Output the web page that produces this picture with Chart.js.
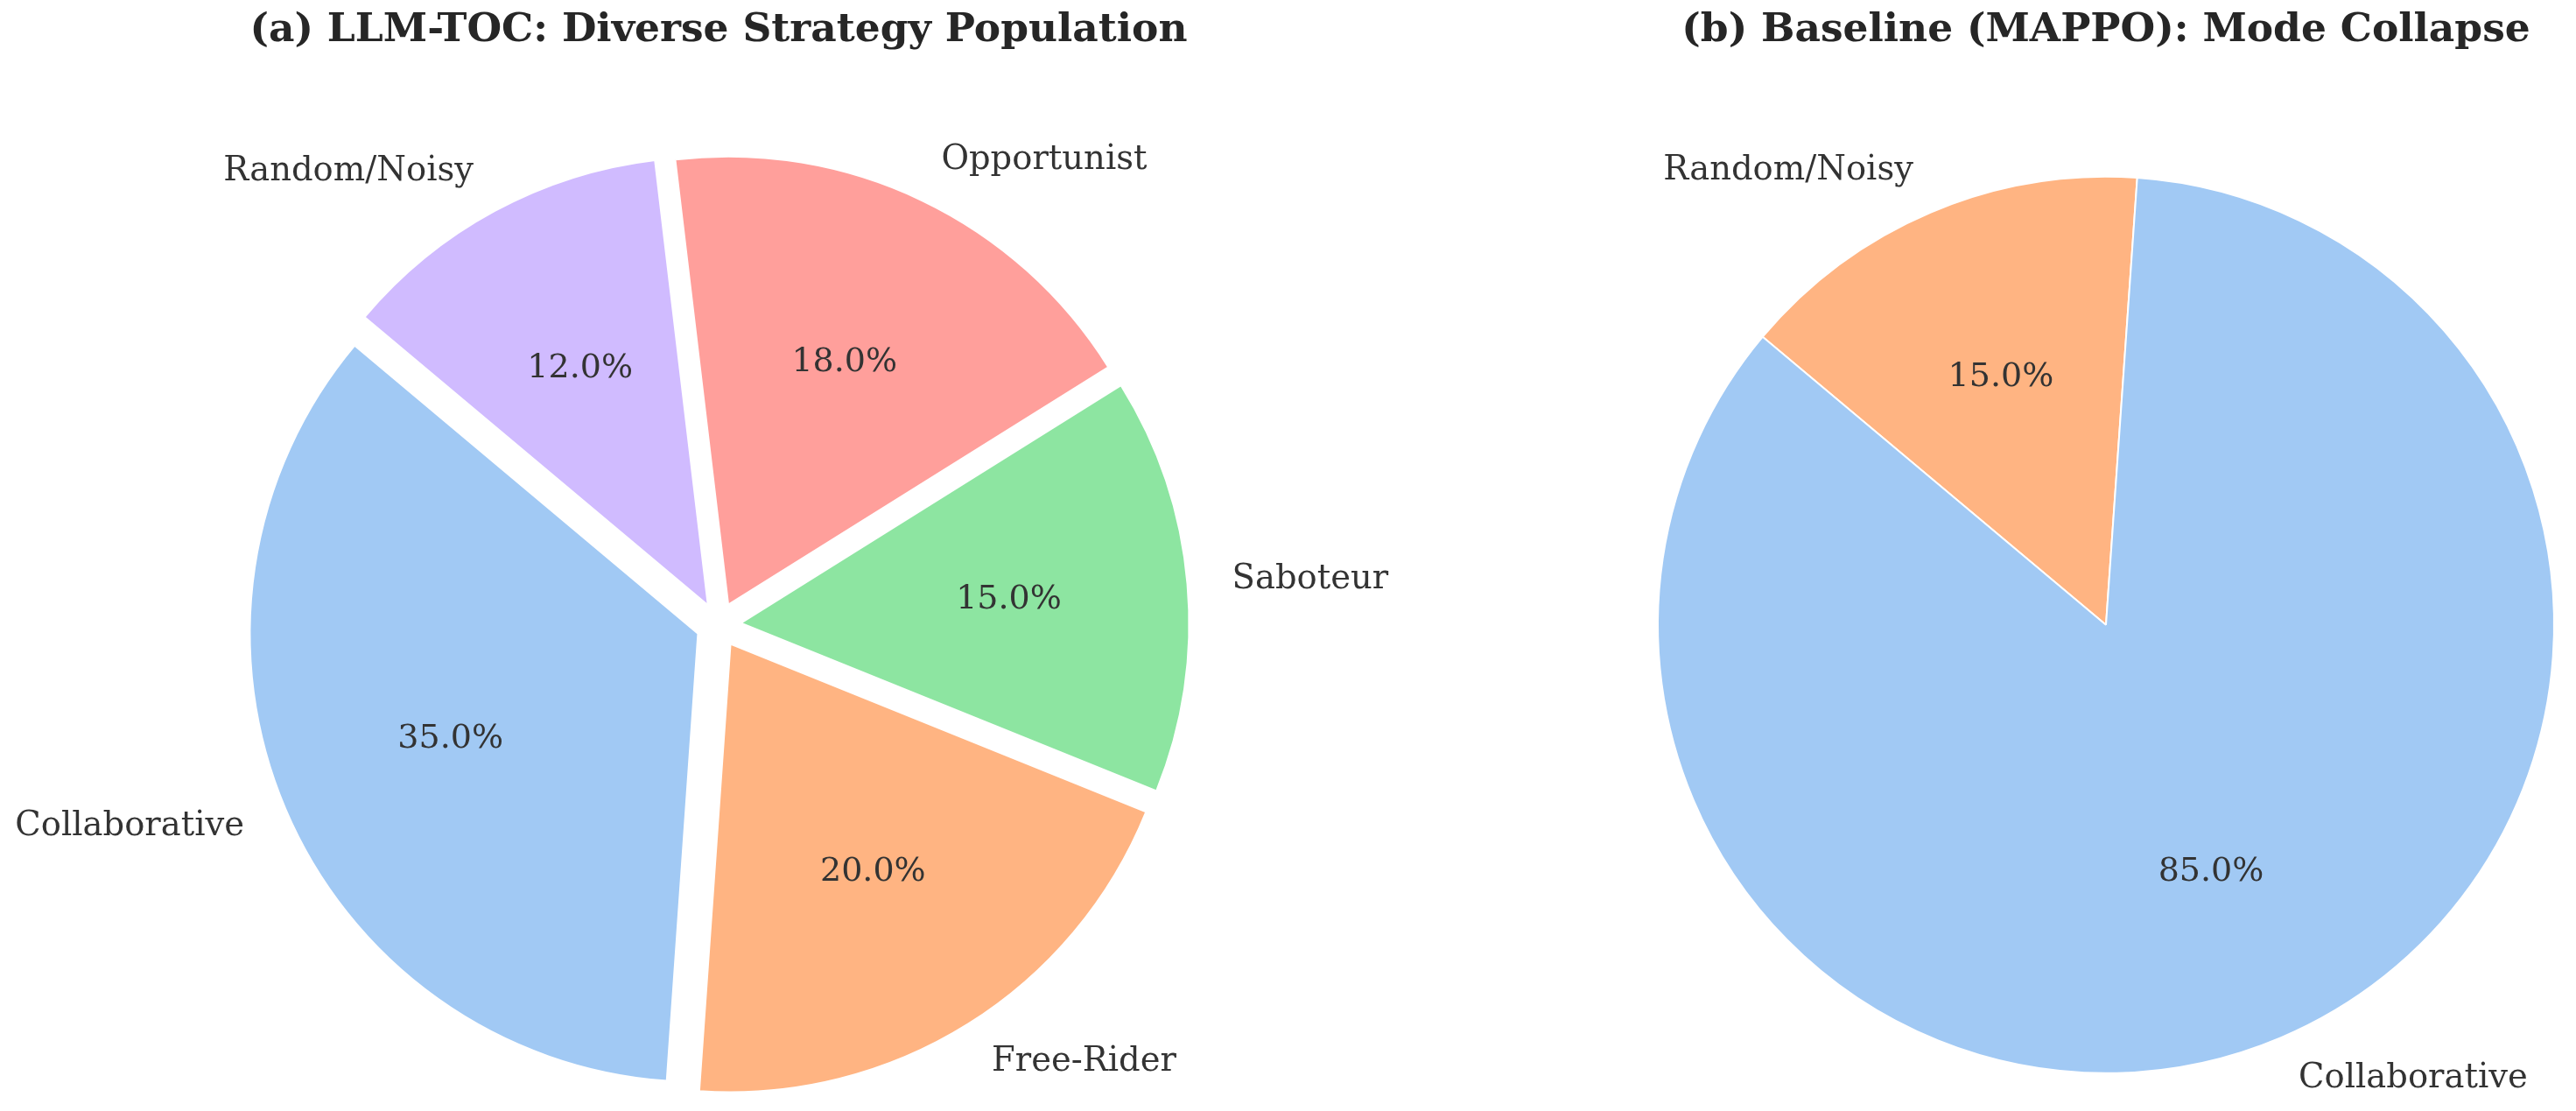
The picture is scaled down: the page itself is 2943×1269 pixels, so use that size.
<!DOCTYPE html>
<html><head><meta charset="utf-8">
<script src="https://cdn.jsdelivr.net/npm/chart.js@4.4.0/dist/chart.umd.min.js"></script>
<style>
html,body{margin:0;padding:0;width:2943px;height:1269px;overflow:hidden;background:#fff;}
.box{position:absolute;top:0;}
#boxA{left:0;width:1642px;height:1357px;}
#boxB{left:1869px;width:1074px;height:1357px;}
</style></head><body>
<div class="box" id="boxA"><canvas id="cA"></canvas></div>
<div class="box" id="boxB"><canvas id="cB"></canvas></div>
<script>
// Data (matplotlib order, counter-clockwise from 140 degrees)
const categoriesA = ['Collaborative', 'Free-Rider', 'Saboteur', 'Opportunist', 'Random/Noisy'];
const valuesA = [35, 20, 15, 18, 12];
const colorsA = ['#a1c9f4', '#ffb482', '#8de5a1', '#ff9f9b', '#d0bbff'];
const categoriesB = ['Collaborative', 'Random/Noisy'];
const valuesB = [85, 15];
const colorsB = ['#a1c9f4', '#ffb482'];
const titleA = '(a) LLM-TOC: Diverse Strategy Population';
const titleB = '(b) Baseline (MAPPO): Mode Collapse';

const TITLE_COLOR = '#262626';
const TEXT = '#333333';
const SERIF = "'DejaVu Serif', serif";

const pieDecor = {
  id: 'pieDecor',
  beforeDatasetsDraw(chart, args, opts) {
    const meta = chart.getDatasetMeta(0);
    const ex = opts.explode || 0;
    meta.data.forEach(arc => {
      if (arc._exWrapped) return;
      const orig = arc.draw.bind(arc);
      arc.draw = function (ctx) {
        const mid = (this.startAngle + this.endAngle) / 2;
        const d = ex * this.outerRadius;
        ctx.save();
        ctx.translate(Math.cos(mid) * d, Math.sin(mid) * d);
        orig(ctx);
        ctx.restore();
      };
      arc._exWrapped = true;
    });
  },
  afterDatasetsDraw(chart, args, opts) {
    const meta = chart.getDatasetMeta(0);
    const ex = opts.explode || 0;
    const data = chart.data.datasets[0].data;
    const total = data.reduce((a, b) => a + b, 0);
    const ctx = chart.ctx;
    ctx.save();
    ctx.fillStyle = TEXT;
    ctx.textBaseline = 'middle';
    meta.data.forEach((arc, i) => {
      const mid = (arc.startAngle + arc.endAngle) / 2;
      const r = arc.outerRadius;
      const cx = arc.x + Math.cos(mid) * ex * r;
      const cy = arc.y + Math.sin(mid) * ex * r;
      // percentage
      ctx.font = opts.pctFont;
      ctx.textAlign = 'center';
      const pct = (data[i] / total * 100).toFixed(1) + '%';
      ctx.fillText(pct, cx + Math.cos(mid) * 0.6 * r, cy + Math.sin(mid) * 0.6 * r);
      // label
      ctx.font = opts.labelFont;
      const lx = cx + Math.cos(mid) * 1.1 * r;
      const ly = cy + Math.sin(mid) * 1.1 * r;
      ctx.textAlign = (lx - arc.x) > 0 ? 'left' : 'right';
      ctx.fillText(chart.data.labels[i], lx, ly);
    });
    ctx.restore();
  }
};

function makePie(canvasId, cats, vals, cols, title, explode) {
  // matplotlib draws counter-clockwise; Chart.js clockwise -> reverse order
  const labels = cats.slice().reverse();
  const data = vals.slice().reverse();
  const colors = cols.slice().reverse();
  return new Chart(document.getElementById(canvasId), {
    type: 'pie',
    data: {
      labels: labels,
      datasets: [{
        data: data,
        backgroundColor: colors,
        borderColor: '#ffffff',
        borderWidth: 2
      }]
    },
    options: {
      responsive: true,
      maintainAspectRatio: false,
      animation: false,
      events: [],
      rotation: -50,
      radius: 512,
      layout: { padding: 0 },
      plugins: {
        legend: { display: false },
        tooltip: { enabled: false },
        title: {
          display: true,
          text: title,
          color: TITLE_COLOR,
          font: { family: SERIF, size: 45.5, weight: 'bold', lineHeight: 1.2 },
          padding: { top: 8, bottom: 8 }
        },
        pieDecor: {
          explode: explode,
          pctFont: "38px " + SERIF,
          labelFont: "38.5px " + SERIF
        }
      }
    },
    plugins: [pieDecor]
  });
}

makePie('cA', categoriesA, valuesA, colorsA, titleA, 0.05);
makePie('cB', categoriesB, valuesB, colorsB, titleB, 0);
</script>
</body></html>
